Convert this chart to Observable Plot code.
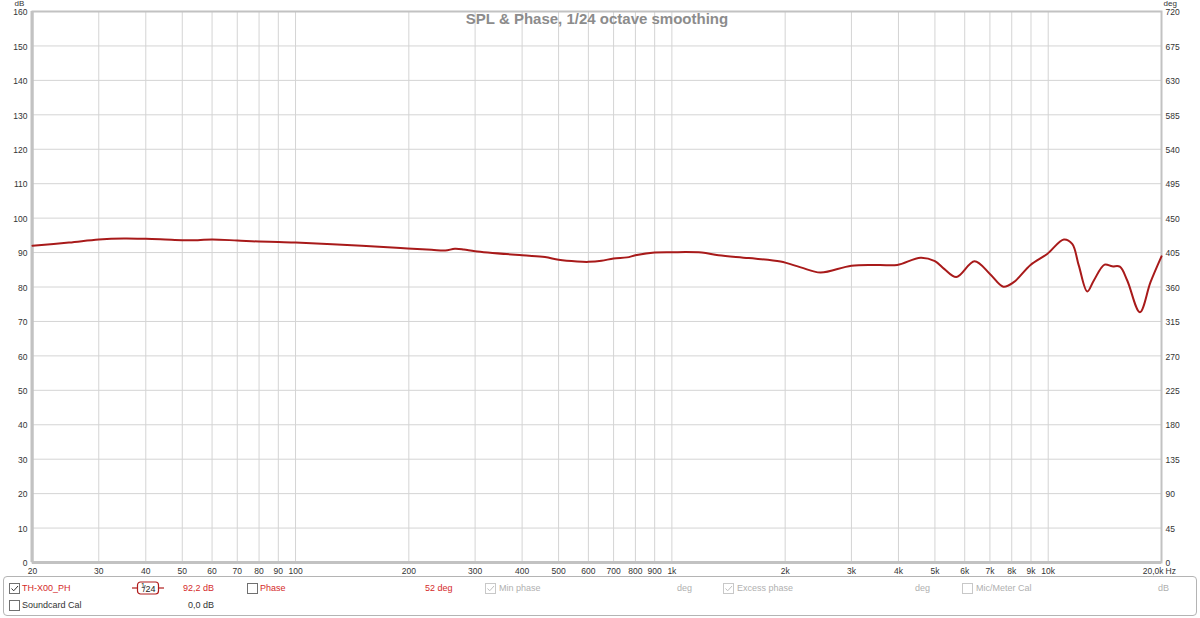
<!DOCTYPE html>
<html>
<head>
<meta charset="utf-8">
<script src="https://cdn.jsdelivr.net/npm/d3@7"></script>
<script src="https://cdn.jsdelivr.net/npm/@observablehq/plot@0.6"></script>
<style>
  html, body { margin: 0; padding: 0; background: #fff; }
  body { width: 1200px; height: 618px; position: relative; overflow: hidden; font-family: "Liberation Sans", Arial, sans-serif; }
  #chart { position: absolute; left: 0; top: 0; }
  #legend { position: absolute; left: 3px; top: 576px; width: 1194px; height: 40px; border: 1px solid #b4b4b4; border-radius: 4px; box-sizing: border-box; font-size: 9px; }
  .it { position: absolute; white-space: nowrap; line-height: 11px; }
  .cb { position: absolute; width: 11px; height: 11px; border: 1px solid #707070; box-sizing: border-box; background: #fff; }
  .cb.dis { border-color: #c8c8c8; }
  .red { color: #d42a2a; }
  .gray { color: #b0b0b0; }
  .dark { color: #333; }
</style>
</head>
<body>
<div id="chart"></div>
<div id="legend"></div>
<script>
// ---- data ----
const freqs = [20, 25, 30, 35, 40, 45, 50, 55, 60, 70, 80, 90, 100, 150, 190, 230, 250, 265, 280, 300, 400, 460, 500, 560, 600, 650, 700, 760, 800, 900, 1000, 1200, 1330, 1600, 1944, 2200, 2483, 3000, 3560, 3970, 4580, 5000, 5300, 5700, 6370, 7000, 7600, 8100, 8974, 9938, 11004, 11580, 12060, 12699, 13220, 14118, 14792, 15500, 16218, 17520, 18700, 20000];
const spl   = [92.0, 92.9, 93.8, 94.1, 94.0, 93.8, 93.6, 93.6, 93.8, 93.5, 93.2, 93.1, 92.9, 92.0, 91.3, 90.8, 90.6, 91.1, 90.9, 90.4, 89.2, 88.7, 87.9, 87.4, 87.3, 87.6, 88.3, 88.6, 89.2, 90.0, 90.1, 90.0, 89.2, 88.4, 87.4, 85.7, 84.2, 86.2, 86.4, 86.4, 88.5, 87.5, 85.2, 82.9, 87.5, 83.8, 80.1, 81.4, 86.4, 89.6, 93.8, 92.5, 86.2, 78.7, 81.9, 86.5, 86.0, 85.9, 81.9, 72.7, 81.4, 88.9];
const xTicks = [20, 30, 40, 50, 60, 70, 80, 90, 100, 200, 300, 400, 500, 600, 700, 800, 900, 1000, 2000, 3000, 4000, 5000, 6000, 7000, 8000, 9000, 10000, 20000];
const xTickLabels = ["20", "30", "40", "50", "60", "70", "80", "90", "100", "200", "300", "400", "500", "600", "700", "800", "900", "1k", "2k", "3k", "4k", "5k", "6k", "7k", "8k", "9k", "10k", "20,0k"];
const dbTicks = d3.range(0, 161, 10);
const degTicks = d3.range(0, 721, 45);
const titleText = "SPL & Phase, 1/24 octave smoothing";

const data = freqs.map((f, i) => ({f, db: spl[i]}));
const xLabelData = xTicks.map((t, i) => ({t, label: xTickLabels[i], last: i === xTicks.length - 1}));
const degData = degTicks.map(d => ({deg: d, db: d * 160 / 720}));

const font = "Liberation Sans, Arial, sans-serif";
const gridColor = "#d4d4d4";
const frameColor = "#c2c2c2";
const txt = "#333";

const plot = Plot.plot({
  width: 1200,
  height: 576,
  marginTop: 11,
  marginBottom: 14,
  marginLeft: 32,
  marginRight: 39,
  style: {fontFamily: font, fontSize: "8.5px", color: txt, background: "#fff"},
  x: {type: "log", domain: [20, 20000], axis: null},
  y: {domain: [0, 160], axis: null},
  marks: [
    Plot.gridX(xTicks, {stroke: gridColor, strokeOpacity: 1, strokeWidth: 1}),
    Plot.gridY(dbTicks, {stroke: gridColor, strokeOpacity: 1, strokeWidth: 1}),
    Plot.frame({stroke: frameColor, strokeWidth: 2}),
    Plot.ruleX([20], {stroke: frameColor, strokeWidth: 3, dx: -0.5}),
    Plot.ruleY([0], {stroke: frameColor, strokeWidth: 3}),
    // x tick labels
    Plot.text(xLabelData.filter(d => !d.last), {x: "t", text: "label", frameAnchor: "bottom", dy: 9, fill: txt, fontSize: 8.5, textAnchor: "middle", lineAnchor: "middle"}),
    Plot.text(xLabelData.filter(d => d.last), {x: "t", text: "label", frameAnchor: "bottom", dy: 9, dx: 2, fill: txt, fontSize: 8.5, textAnchor: "end", lineAnchor: "middle"}),
    Plot.text(["Hz"], {x: () => 20000, frameAnchor: "bottom", dy: 9, dx: 4, text: d => d, fill: txt, fontSize: 8.5, textAnchor: "start", lineAnchor: "middle"}),
    // left dB labels
    Plot.text(dbTicks, {y: d => d, text: d => String(d), frameAnchor: "left", dx: -5, dy: 1, textAnchor: "end", fill: txt, fontSize: 8.5, lineAnchor: "middle"}),
    // right deg labels
    Plot.text(degData, {y: "db", text: d => String(d.deg), frameAnchor: "right", dx: 4, dy: 1, textAnchor: "start", fill: txt, fontSize: 8.5, lineAnchor: "middle"}),
    Plot.text(["dB"], {frameAnchor: "top-left", dx: -18, dy: -11, text: d => d, fill: txt, fontSize: 8, textAnchor: "start", lineAnchor: "top"}),
    Plot.text(["deg"], {frameAnchor: "top-right", dx: 2, dy: -11, text: d => d, fill: txt, fontSize: 8, textAnchor: "start", lineAnchor: "top"}),
    Plot.text([titleText], {frameAnchor: "top", dy: 8, text: d => d, fill: "#8c8c8c", fontSize: 15, fontWeight: "bold", lineAnchor: "middle"}),
    Plot.line(data, {x: "f", y: "db", stroke: "#a81a1a", strokeWidth: 2, curve: "catmull-rom"})
  ]
});
document.getElementById("chart").appendChild(plot);

// ---- legend panel ----
const legendItems = [
  {type: "cb", x: 5, y: 6, checked: true},
  {type: "txt", x: 18, y: 6, text: "TH-X00_PH", cls: "red"},
  {type: "smooth", x: 128, y: 4},
  {type: "txt", x: 179, y: 6, text: "92,2 dB", cls: "red"},
  {type: "cb", x: 243, y: 6, checked: false},
  {type: "txt", x: 256, y: 6, text: "Phase", cls: "red"},
  {type: "txt", x: 421, y: 6, text: "52 deg", cls: "red"},
  {type: "cb", x: 481, y: 6, checked: true, dis: true},
  {type: "txt", x: 495, y: 6, text: "Min phase", cls: "gray"},
  {type: "txt", x: 673, y: 6, text: "deg", cls: "gray"},
  {type: "cb", x: 719, y: 6, checked: true, dis: true},
  {type: "txt", x: 733, y: 6, text: "Excess phase", cls: "gray"},
  {type: "txt", x: 911, y: 6, text: "deg", cls: "gray"},
  {type: "cb", x: 958, y: 6, checked: false, dis: true},
  {type: "txt", x: 972, y: 6, text: "Mic/Meter Cal", cls: "gray"},
  {type: "txt", x: 1154, y: 6, text: "dB", cls: "gray"},
  {type: "cb", x: 5, y: 23, checked: false},
  {type: "txt", x: 18, y: 23, text: "Soundcard Cal", cls: "dark"},
  {type: "txt", x: 184, y: 23, text: "0,0 dB", cls: "dark"}
];
const legend = document.getElementById("legend");
for (const it of legendItems) {
  if (it.type === "cb") {
    const el = document.createElement("div");
    el.className = "cb" + (it.dis ? " dis" : "");
    el.style.left = it.x + "px"; el.style.top = it.y + "px";
    if (it.checked) {
      el.innerHTML = `<svg width="11" height="11" style="position:absolute;left:-1px;top:-1px"><path d="M2.5,5.5 L4.7,7.8 L9,3" fill="none" stroke="${it.dis ? "#c0c0c0" : "#333"}" stroke-width="1"/></svg>`;
    }
    legend.appendChild(el);
  } else if (it.type === "txt") {
    const el = document.createElement("div");
    el.className = "it " + it.cls;
    el.style.left = it.x + "px"; el.style.top = it.y + "px";
    el.textContent = it.text;
    legend.appendChild(el);
  } else if (it.type === "smooth") {
    const el = document.createElement("div");
    el.className = "it";
    el.style.left = it.x + "px"; el.style.top = it.y + "px";
    el.innerHTML = `<svg width="32" height="14"><line x1="0" y1="7" x2="6" y2="7" stroke="#b01c1c" stroke-width="1.2"/><line x1="26" y1="7" x2="32" y2="7" stroke="#b01c1c" stroke-width="1.2"/><rect x="5.5" y="1" width="21" height="12" rx="3" fill="#fff" stroke="#b01c1c" stroke-width="1.2"/><text x="9" y="7" font-size="7" fill="#222" font-family="Liberation Sans, Arial">1</text><text x="11" y="11" font-size="9" fill="#222" font-family="Liberation Sans, Arial">/24</text></svg>`;
    legend.appendChild(el);
  }
}
</script>
</body>
</html>
